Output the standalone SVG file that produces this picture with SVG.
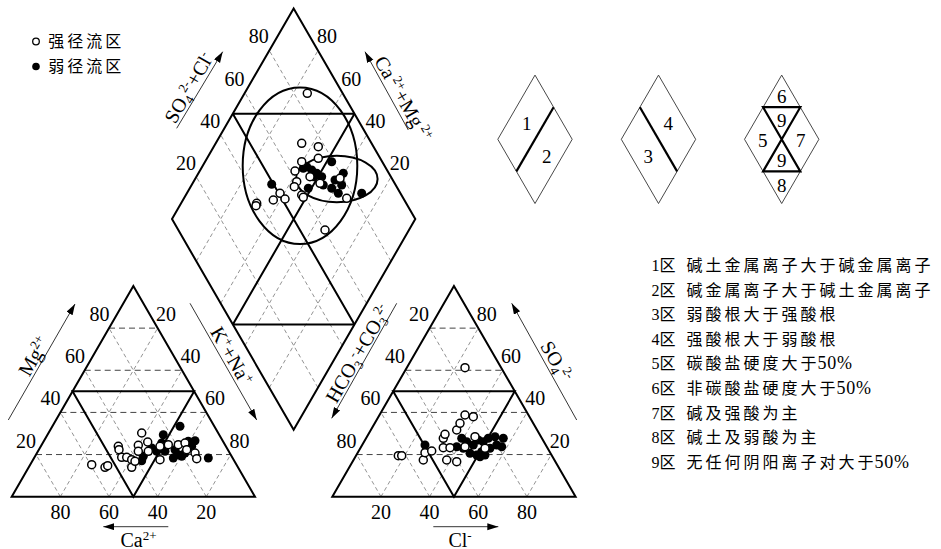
<svg xmlns="http://www.w3.org/2000/svg" xmlns:xlink="http://www.w3.org/1999/xlink" width="941" height="549" viewBox="0 0 941 549">
<style>
.edge{fill:none;stroke:#000;stroke-width:2;stroke-linejoin:miter}
.hd{fill:none;stroke:#444;stroke-width:1;stroke-dasharray:6 4}
.dd{fill:none;stroke:#777;stroke-width:0.8;stroke-dasharray:4 3}
.ax{fill:none;stroke:#000;stroke-width:0.8}
.sm{fill:none;stroke:#333;stroke-width:0.9}
.smk{fill:none;stroke:#000;stroke-width:2.2}
.o{fill:#fff;stroke:#000;stroke-width:1.5}
.f{fill:#000}
.num{font-family:"Liberation Serif","Times New Roman",serif;font-size:20px;text-anchor:middle;fill:#000}
.lab{font-family:"Liberation Serif","Times New Roman",serif;font-size:20px;fill:#000}
.cjk{font-family:"Liberation Serif","Noto Sans CJK SC",serif;font-size:16px;fill:#000}
.sup{font-size:13px}
.ns{letter-spacing:0.8px;font-size:18px}
</style>
<defs>
<marker id="ah" markerUnits="userSpaceOnUse" markerWidth="12" markerHeight="8" refX="11" refY="3.5" orient="auto">
<path d="M0,0 L11,3.5 L0,7 z" fill="#000"/>
</marker>
<g id="tri">
<path class="hd" d="M36.03,454.56H230.67M60.36,412.42H206.34M84.69,370.28H182.01M109.02,328.14H157.68"/>
<path class="dd" d="M60.36,496.7L157.68,328.14M109.02,496.7L182.01,370.28M157.68,496.7L206.34,412.42M206.34,496.7L230.67,454.56M60.36,496.7L36.03,454.56M109.02,496.7L60.36,412.42M157.68,496.7L84.69,370.28M206.34,496.7L109.02,328.14"/>
<path class="edge" d="M72.53,391.35H194.18L133.35,496.7Z"/>
<polygon class="edge" points="11.7,496.7 255,496.7 133.35,286"/>
</g>
</defs>

<g id="left-triangle">
<use xlink:href="#tri" href="#tri"/>
</g>
<g id="right-triangle">
<use xlink:href="#tri" href="#tri" transform="translate(320.6,0)"/>
</g>

<g id="diamond">
<path class="dd" d="M269.32,387.66L390.97,176.96M244.99,345.52L366.64,134.82M220.66,303.38L342.31,92.68M196.33,261.24L317.98,50.54M317.98,387.66L196.33,176.96M342.31,345.52L220.66,134.82M366.64,303.38L244.99,92.68M390.97,261.24L269.32,50.54"/>
<path class="edge" d="M232.83,324.45L354.48,113.75M354.48,324.45L232.83,113.75M232.83,324.45H354.48M232.83,113.75H354.48"/>
<polygon class="edge" points="293.65,8.4 415.3,219.1 293.65,429.8 172,219.1"/>
<ellipse class="edge" cx="300" cy="165.7" rx="57.3" ry="78.3"/>
<ellipse class="edge" cx="336.8" cy="179" rx="40.8" ry="23.3"/>
</g>

<g id="ticks">
<text class="num" x="99.5" y="320.8">80</text>
<text class="num" x="75" y="363.1">60</text>
<text class="num" x="50.5" y="405.3">40</text>
<text class="num" x="26" y="447.6">20</text>
<text class="num" x="166" y="320.8">20</text>
<text class="num" x="190.5" y="363.1">40</text>
<text class="num" x="215" y="405.3">60</text>
<text class="num" x="239.5" y="447.6">80</text>
<text class="num" x="60.4" y="518.5">80</text>
<text class="num" x="109" y="518.5">60</text>
<text class="num" x="157.7" y="518.5">40</text>
<text class="num" x="206.3" y="518.5">20</text>
<text class="num" x="419" y="320.8">20</text>
<text class="num" x="395" y="363.1">40</text>
<text class="num" x="370.5" y="405.3">60</text>
<text class="num" x="346.5" y="447.6">80</text>
<text class="num" x="486.7" y="320.8">80</text>
<text class="num" x="511" y="363.1">60</text>
<text class="num" x="535.3" y="405.3">40</text>
<text class="num" x="559.8" y="447.6">20</text>
<text class="num" x="381" y="518.5">20</text>
<text class="num" x="429.6" y="518.5">40</text>
<text class="num" x="478.3" y="518.5">60</text>
<text class="num" x="526.9" y="518.5">80</text>
<text class="num" x="258.8" y="43.4">80</text>
<text class="num" x="234.5" y="85.5">60</text>
<text class="num" x="210.3" y="127.6">40</text>
<text class="num" x="186" y="169.7">20</text>
<text class="num" x="327" y="43.4">80</text>
<text class="num" x="351.2" y="85.5">60</text>
<text class="num" x="375.5" y="127.6">40</text>
<text class="num" x="399.7" y="169.7">20</text>
</g>

<g id="axes">
<line class="ax" x1="176.7" y1="128.3" x2="222.7" y2="51.7" marker-end="url(#ah)"/>
<line class="ax" x1="408.3" y1="130" x2="365" y2="51.7" marker-end="url(#ah)"/>
<line class="ax" x1="8.3" y1="420" x2="75" y2="304" marker-end="url(#ah)"/>
<line class="ax" x1="190" y1="303.3" x2="256.7" y2="420" marker-end="url(#ah)"/>
<line class="ax" x1="396.7" y1="303.3" x2="331.7" y2="418.3" marker-end="url(#ah)"/>
<line class="ax" x1="576.7" y1="420" x2="511.7" y2="303.3" marker-end="url(#ah)"/>
<line class="ax" x1="168.3" y1="526.7" x2="103.3" y2="526.7" marker-end="url(#ah)"/>
<line class="ax" x1="433.3" y1="526.7" x2="498.3" y2="526.7" marker-end="url(#ah)"/>
<g transform="translate(197.3,92.6) rotate(-60)"><text class="lab" x="0" y="-3" text-anchor="middle">SO<tspan class="sup" dy="4">4</tspan><tspan class="sup" dy="-11">2-</tspan><tspan dy="7">+Cl</tspan><tspan class="sup" dy="-7">-</tspan></text></g>
<g transform="translate(395,103.5) rotate(60)"><text class="lab" x="0" y="-3" text-anchor="middle">Ca<tspan class="sup" dx="3" dy="-7">2+</tspan><tspan dy="7">+Mg</tspan><tspan class="sup" dx="3" dy="-7">2+</tspan></text></g>
<g transform="translate(42.3,361.1) rotate(-60)"><text class="lab" x="0" y="-3" text-anchor="middle">Mg<tspan class="sup" dy="-7">2+</tspan></text></g>
<g transform="translate(223.2,360.9) rotate(60)"><text class="lab" x="0" y="-3" text-anchor="middle">K<tspan class="sup" dy="-7">+</tspan><tspan dy="7">+Na</tspan><tspan class="sup" dy="-7">+</tspan></text></g>
<g transform="translate(366.4,358.3) rotate(-60)"><text class="lab" x="0" y="-3" text-anchor="middle">HCO<tspan class="sup" dy="4">3</tspan><tspan class="sup" dy="-11">-</tspan><tspan dy="7">+CO</tspan><tspan class="sup" dy="4">3</tspan><tspan class="sup" dy="-11">2-</tspan></text></g>
<g transform="translate(548,366.1) rotate(60)"><text class="lab" x="0" y="-3" text-anchor="middle">SO<tspan class="sup" dy="4">4</tspan><tspan class="sup" dy="-11">2-</tspan></text></g>
<text class="lab" x="138.5" y="546.5" text-anchor="middle">Ca<tspan class="sup" dy="-7">2+</tspan></text>
<text class="lab" x="460" y="546.5" text-anchor="middle">Cl<tspan class="sup" dy="-7">-</tspan></text>
</g>

<g id="points-diamond">
<circle class="f" cx="271.7" cy="184.3" r="4.5"/><circle class="f" cx="331.7" cy="161.7" r="4.5"/><circle class="f" cx="306.7" cy="166.7" r="4.5"/><circle class="f" cx="311.7" cy="170" r="4.5"/><circle class="f" cx="316.7" cy="173.3" r="4.5"/><circle class="f" cx="313.3" cy="176.7" r="4.5"/><circle class="f" cx="308.3" cy="188.3" r="4.5"/><circle class="f" cx="323.3" cy="185" r="4.5"/><circle class="f" cx="331.7" cy="188.3" r="4.5"/><circle class="f" cx="335" cy="180" r="4.5"/><circle class="f" cx="343.3" cy="173.3" r="4.5"/><circle class="f" cx="341.7" cy="185" r="4.5"/><circle class="f" cx="338.3" cy="193.3" r="4.5"/><circle class="f" cx="361.7" cy="193.3" r="4.5"/><circle class="f" cx="321.7" cy="176.7" r="4.5"/><circle class="f" cx="303.3" cy="168.3" r="4.5"/>
<circle class="o" cx="307.3" cy="93.3" r="4"/><circle class="o" cx="301.7" cy="143.3" r="4"/><circle class="o" cx="318.3" cy="146.7" r="4"/><circle class="o" cx="318.3" cy="158.3" r="4"/><circle class="o" cx="301.7" cy="161.7" r="4"/><circle class="o" cx="295" cy="171" r="4"/><circle class="o" cx="296.7" cy="181.7" r="4"/><circle class="o" cx="294.3" cy="186.7" r="4"/><circle class="o" cx="280" cy="193.3" r="4"/><circle class="o" cx="273.3" cy="200" r="4"/><circle class="o" cx="285" cy="199" r="4"/><circle class="o" cx="301.7" cy="195" r="4"/><circle class="o" cx="303.3" cy="197.3" r="4"/><circle class="o" cx="256.7" cy="203.3" r="4"/><circle class="o" cx="256" cy="205.7" r="4"/><circle class="o" cx="325" cy="230" r="4"/><circle class="o" cx="346.7" cy="198.3" r="4"/><circle class="o" cx="320" cy="183.3" r="4"/><circle class="o" cx="310" cy="176.7" r="4"/><circle class="o" cx="340" cy="178.3" r="4"/>
</g>

<g id="points-left">
<circle class="f" cx="180" cy="426.3" r="4.5"/><circle class="f" cx="163.3" cy="434.7" r="4.5"/><circle class="f" cx="161.7" cy="443" r="4.5"/><circle class="f" cx="151.7" cy="448" r="4.5"/><circle class="f" cx="156.7" cy="451.3" r="4.5"/><circle class="f" cx="143.3" cy="456.3" r="4.5"/><circle class="f" cx="141.7" cy="460.7" r="4.5"/><circle class="f" cx="175" cy="449.7" r="4.5"/><circle class="f" cx="178.3" cy="454.7" r="4.5"/><circle class="f" cx="185" cy="453" r="4.5"/><circle class="f" cx="191.7" cy="446.3" r="4.5"/><circle class="f" cx="195" cy="440.7" r="4.5"/><circle class="f" cx="188.3" cy="441.3" r="4.5"/><circle class="f" cx="173.3" cy="458" r="4.5"/><circle class="f" cx="181.7" cy="456.3" r="4.5"/><circle class="f" cx="208.3" cy="458" r="4.5"/><circle class="f" cx="165" cy="451.3" r="4.5"/>
<circle class="o" cx="91.7" cy="464.7" r="4"/><circle class="o" cx="105" cy="467.3" r="4"/><circle class="o" cx="107.7" cy="465.7" r="4"/><circle class="o" cx="118.3" cy="446.3" r="4"/><circle class="o" cx="119" cy="449.7" r="4"/><circle class="o" cx="121.7" cy="457.3" r="4"/><circle class="o" cx="126.7" cy="457.3" r="4"/><circle class="o" cx="131.7" cy="459.7" r="4"/><circle class="o" cx="131.7" cy="467.3" r="4"/><circle class="o" cx="135" cy="461.3" r="4"/><circle class="o" cx="138.3" cy="445.3" r="4"/><circle class="o" cx="141.7" cy="433" r="4"/><circle class="o" cx="147.7" cy="442" r="4"/><circle class="o" cx="138.3" cy="451.3" r="4"/><circle class="o" cx="148.3" cy="451.3" r="4"/><circle class="o" cx="160" cy="459.7" r="4"/><circle class="o" cx="168.3" cy="444.7" r="4"/><circle class="o" cx="178.3" cy="444.7" r="4"/><circle class="o" cx="185" cy="443" r="4"/><circle class="o" cx="195" cy="453" r="4"/><circle class="o" cx="196.7" cy="458.7" r="4"/><circle class="o" cx="186.7" cy="449.7" r="4"/><circle class="o" cx="160" cy="446.3" r="4"/>
</g>

<g id="points-right">
<circle class="f" cx="425" cy="445" r="4.5"/><circle class="f" cx="456.7" cy="446.7" r="4.5"/><circle class="f" cx="461.7" cy="438.3" r="4.5"/><circle class="f" cx="466.7" cy="441.7" r="4.5"/><circle class="f" cx="473.3" cy="445" r="4.5"/><circle class="f" cx="478.3" cy="440" r="4.5"/><circle class="f" cx="483.3" cy="441.7" r="4.5"/><circle class="f" cx="488.3" cy="438.3" r="4.5"/><circle class="f" cx="495" cy="436.7" r="4.5"/><circle class="f" cx="503.3" cy="438.3" r="4.5"/><circle class="f" cx="496.7" cy="445" r="4.5"/><circle class="f" cx="490" cy="448.3" r="4.5"/><circle class="f" cx="481.7" cy="451.7" r="4.5"/><circle class="f" cx="476.7" cy="455" r="4.5"/><circle class="f" cx="470" cy="453.3" r="4.5"/><circle class="f" cx="463.3" cy="448.3" r="4.5"/><circle class="f" cx="501.7" cy="446.7" r="4.5"/><circle class="f" cx="485" cy="455" r="4.5"/><circle class="f" cx="480" cy="456.7" r="4.5"/>
<circle class="o" cx="465" cy="367.7" r="4"/><circle class="o" cx="398.3" cy="455.7" r="4"/><circle class="o" cx="401.7" cy="455.7" r="4"/><circle class="o" cx="423.3" cy="460" r="4"/><circle class="o" cx="425" cy="452.7" r="4"/><circle class="o" cx="431.7" cy="451" r="4"/><circle class="o" cx="443.3" cy="438.3" r="4"/><circle class="o" cx="445" cy="434.3" r="4"/><circle class="o" cx="443.3" cy="447.7" r="4"/><circle class="o" cx="450" cy="447.7" r="4"/><circle class="o" cx="446.7" cy="460" r="4"/><circle class="o" cx="456.7" cy="461.7" r="4"/><circle class="o" cx="456.7" cy="430" r="4"/><circle class="o" cx="460" cy="423.3" r="4"/><circle class="o" cx="465" cy="415" r="4"/><circle class="o" cx="473.3" cy="416.7" r="4"/><circle class="o" cx="475" cy="436.7" r="4"/><circle class="o" cx="485" cy="448.3" r="4"/><circle class="o" cx="465" cy="446.7" r="4"/>
</g>

<g id="legend-symbols">
<circle class="o" cx="36" cy="41.5" r="3.3" style="stroke-width:1.3"/>
<text class="cjk" x="48.3" y="47.3" letter-spacing="3">强径流区</text>
<circle class="f" cx="36" cy="66.5" r="3.8"/>
<text class="cjk" x="48.3" y="72.3" letter-spacing="3">弱径流区</text>
</g>

<g id="key-diamond-1">
<polygon class="sm" points="535,75.1 572.2,139.3 535,203.5 497.8,139.3"/>
<line class="smk" x1="553.6" y1="107.2" x2="516.4" y2="171.4"/>
<text class="num" x="526.7" y="130" style="font-size:19px">1</text>
<text class="num" x="546.7" y="163.3" style="font-size:19px">2</text>
</g>
<g id="key-diamond-2">
<polygon class="sm" points="658.5,75.1 695.7,139.3 658.5,203.5 621.3,139.3"/>
<line class="smk" x1="639.9" y1="107.2" x2="677.1" y2="171.4"/>
<text class="num" x="668.3" y="130" style="font-size:19px">4</text>
<text class="num" x="648.3" y="163.3" style="font-size:19px">3</text>
</g>
<g id="key-diamond-3">
<polygon class="sm" points="781.7,75.1 818.9,139.3 781.7,203.5 744.5,139.3"/>
<path class="smk" d="M763.1,107.2H800.3L763.1,171.4H800.3Z"/>
<text class="num" x="781.7" y="103.3" style="font-size:19px">6</text>
<text class="num" x="781.7" y="126.5" style="font-size:19px">9</text>
<text class="num" x="762.7" y="146.5" style="font-size:19px">5</text>
<text class="num" x="800.7" y="146.5" style="font-size:19px">7</text>
<text class="num" x="781.7" y="166.5" style="font-size:19px">9</text>
<text class="num" x="781.7" y="191.5" style="font-size:19px">8</text>
</g>

<g id="zone-legend">
<text class="cjk" x="651.5" y="270.8">1区 <tspan x="686.5" letter-spacing="3">碱土金属离子大于碱金属离子</tspan></text>
<text class="cjk" x="651.5" y="295.5">2区 <tspan x="686.5" letter-spacing="3">碱金属离子大于碱土金属离子</tspan></text>
<text class="cjk" x="651.5" y="320.1">3区 <tspan x="686.5" letter-spacing="3">弱酸根大于强酸根</tspan></text>
<text class="cjk" x="651.5" y="344.8">4区 <tspan x="686.5" letter-spacing="3">强酸根大于弱酸根</tspan></text>
<text class="cjk" x="651.5" y="369.4">5区 <tspan x="686.5" letter-spacing="3">碳酸盐硬度大于</tspan><tspan class="ns" dx="-2">50%</tspan></text>
<text class="cjk" x="651.5" y="394.1">6区 <tspan x="686.5" letter-spacing="3">非碳酸盐硬度大于</tspan><tspan class="ns" dx="-2">50%</tspan></text>
<text class="cjk" x="651.5" y="418.8">7区 <tspan x="686.5" letter-spacing="3">碱及强酸为主</tspan></text>
<text class="cjk" x="651.5" y="443.4">8区 <tspan x="686.5" letter-spacing="3">碱土及弱酸为主</tspan></text>
<text class="cjk" x="651.5" y="468.1">9区 <tspan x="686.5" letter-spacing="3">无任何阴阳离子对大于</tspan><tspan class="ns" dx="-2">50%</tspan></text>
</g>
</svg>
